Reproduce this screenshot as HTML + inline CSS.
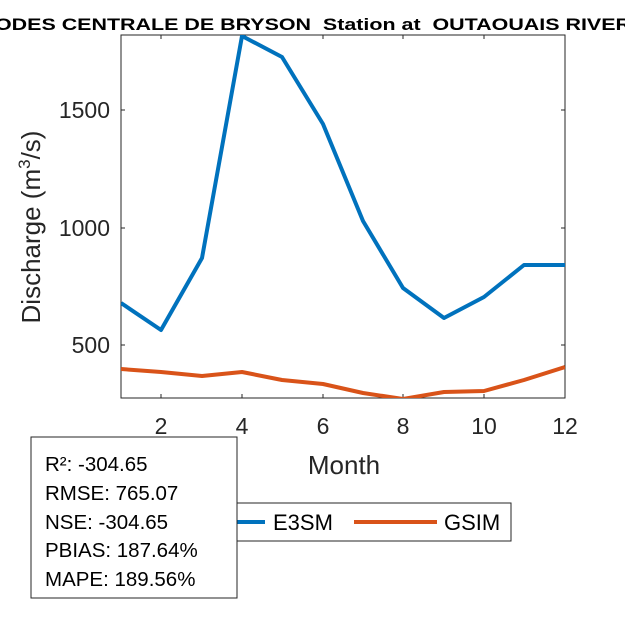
<!DOCTYPE html>
<html><head><style>body{margin:0;background:#fff}svg{display:block}</style></head><body>
<svg width="625" height="625" xmlns="http://www.w3.org/2000/svg" font-family="Liberation Sans, Arial, sans-serif">
<rect width="625" height="625" fill="#fff"/>
<text x="-5" y="30" xml:space="preserve" font-size="17" font-weight="bold" fill="#000" textLength="636" lengthAdjust="spacingAndGlyphs">ODES CENTRALE DE BRYSON  Station at  OUTAOUAIS RIVER</text>
<rect x="121" y="35" width="444" height="363" fill="none" stroke="#262626" stroke-width="1"/>
<g stroke="#262626" stroke-width="1">
<line x1="161" y1="398" x2="161" y2="394"/><line x1="242" y1="398" x2="242" y2="394"/><line x1="323" y1="398" x2="323" y2="394"/><line x1="403" y1="398" x2="403" y2="394"/><line x1="484" y1="398" x2="484" y2="394"/>
<line x1="161" y1="35" x2="161" y2="39"/><line x1="242" y1="35" x2="242" y2="39"/><line x1="323" y1="35" x2="323" y2="39"/><line x1="403" y1="35" x2="403" y2="39"/><line x1="484" y1="35" x2="484" y2="39"/>
<line x1="121" y1="110" x2="125" y2="110"/><line x1="121" y1="228" x2="125" y2="228"/><line x1="121" y1="345" x2="125" y2="345"/>
<line x1="565" y1="110" x2="561" y2="110"/><line x1="565" y1="228" x2="561" y2="228"/><line x1="565" y1="345" x2="561" y2="345"/>
</g>
<g font-size="23" fill="#262626" text-anchor="middle">
<text x="161" y="434">2</text><text x="242" y="434">4</text><text x="323" y="434">6</text><text x="403" y="434">8</text><text x="484" y="434">10</text><text x="565" y="434">12</text>
</g>
<g font-size="23" fill="#262626" text-anchor="end">
<text x="110" y="118">1500</text><text x="110" y="236">1000</text><text x="110" y="353">500</text>
</g>
<text x="344" y="474" font-size="26" fill="#262626" text-anchor="middle">Month</text>
<text transform="translate(40,227) rotate(-90)" font-size="26" fill="#262626" text-anchor="middle">Discharge (m<tspan font-size="17" dy="-10">3</tspan><tspan dy="10">/s)</tspan></text>
<svg x="121" y="35" width="444" height="363" overflow="hidden">
<g transform="translate(-121,-35)" fill="none" stroke-width="4" stroke-linejoin="round">
<polyline stroke="#0072BD" points="121,303 161,330 202,258 242,36 282,57 323,124 363,221 403,288 444,318 484,297 524,265 565,265"/>
<polyline stroke="#D95319" points="121,369 161,372 202,376 242,372 282,380 323,384 363,393 403,399 444,392 484,391 524,380 565,367"/>
</g></svg>
<rect x="236" y="503" width="275" height="38" fill="#fff" stroke="#262626" stroke-width="1"/>
<line x1="236" y1="522" x2="265" y2="522" stroke="#0072BD" stroke-width="4"/>
<text x="273" y="530" font-size="22" fill="#000">E3SM</text>
<line x1="354" y1="522" x2="437" y2="522" stroke="#D95319" stroke-width="4"/>
<text x="444" y="530" font-size="22" fill="#000">GSIM</text>
<rect x="31" y="437" width="206" height="161" fill="#fff" stroke="#262626" stroke-width="1"/>
<g font-size="20.5" fill="#000">
<text x="45" y="471">R²: -304.65</text>
<text x="45" y="500">RMSE: 765.07</text>
<text x="45" y="529">NSE: -304.65</text>
<text x="45" y="557">PBIAS: 187.64%</text>
<text x="45" y="586">MAPE: 189.56%</text>
</g>
</svg>
</body></html>
